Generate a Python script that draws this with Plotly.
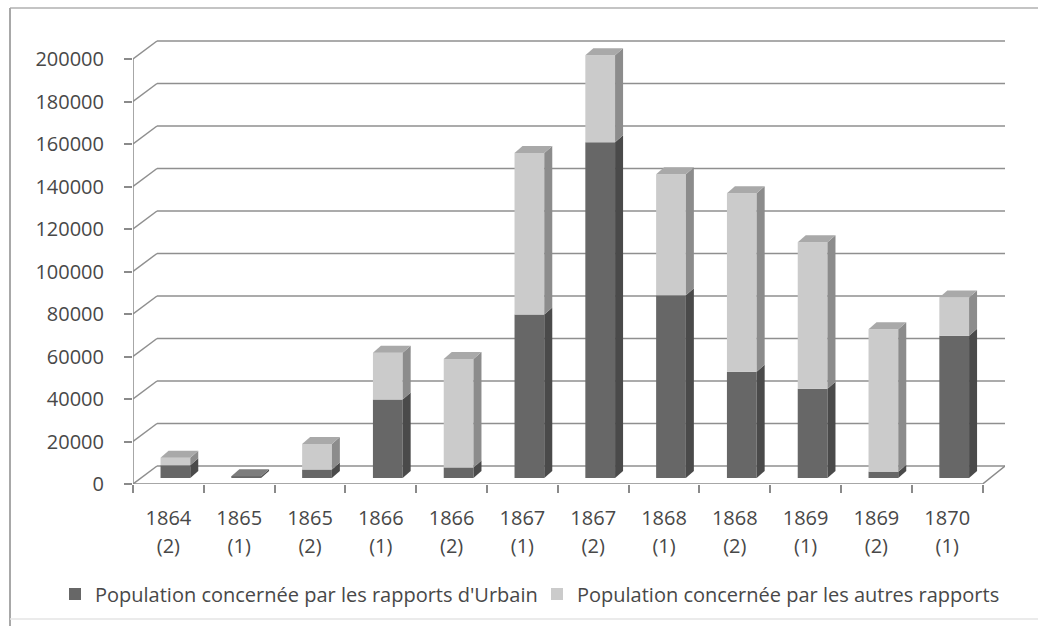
import plotly.graph_objects as go

years = ["1864", "1865", "1865", "1866", "1866", "1867", "1867", "1868", "1868", "1869", "1869", "1870"]
reports = ["(2)", "(1)", "(2)", "(1)", "(2)", "(1)", "(2)", "(1)", "(2)", "(1)", "(2)", "(1)"]
urbain = [6000, 800, 4000, 37000, 5000, 77000, 158000, 86000, 50000, 42000, 3000, 67000]
autres = [3500, 0, 12000, 22000, 51000, 76000, 41000, 57000, 84000, 69000, 67000, 18000]
yticks = [0, 20000, 40000, 60000, 80000, 100000, 120000, 140000, 160000, 180000, 200000]

series_names = ["Population concernée par les rapports d'Urbain",
                "Population concernée par les autres rapports"]
front_cols = ["#676767", "#cbcbcb"]
side_cols = ["#4a4a4a", "#8c8c8c"]
top_cols = ["#7d7d7d", "#a9a9a9"]
grid_col = "#8f8f8f"

W, H = 1038, 626
n = len(years)

# pixel geometry of the pseudo-3D frame
L = 133                 # front-left axis x (px)
RIGHT = 1005            # right edge of back wall (px)
BAR0 = 478              # pixel row of bar zero level
PX_PER_UNIT = 2.125 / 1000
FRONT_OFF = 6           # front axis sits this many px below bar level
BACK_OFF = 12           # back wall sits this many px above bar level
DEPTH_X = 24            # horizontal shift between front axis and back wall
CAT_W = 70.8            # px per category

T = 36
plot_h = BAR0 + FRONT_OFF - T
plot_w = RIGHT - L
fo = FRONT_OFF / PX_PER_UNIT
bo = BACK_OFF / PX_PER_UNIT
YMIN = -fo
YTOP = YMIN + plot_h / PX_PER_UNIT
XMIN = -0.5
XMAX = XMIN + plot_w / CAT_W

def px_to_xdata(px):
    return XMIN + (px - L) / CAT_W

bw = 0.42
shift = 7 / CAT_W
dx = 8 / CAT_W
dy = 7 / PX_PER_UNIT
xs = list(range(n))
xb = [i + shift for i in xs]

fig = go.Figure()

for k, (vals, name) in enumerate(zip([urbain, autres], series_names)):
    base = [0] * n if k == 0 else urbain
    fig.add_trace(go.Bar(x=xb, y=vals, base=base, name=name, width=bw,
                         marker=dict(color=front_cols[k], line=dict(width=0))))

for k, vals in enumerate([urbain, autres]):
    base = [0] * n if k == 0 else urbain
    for i in range(n):
        if vals[i] <= 0:
            continue
        b0 = base[i]
        t0 = base[i] + vals[i]
        xr = xb[i] + bw / 2
        xl = xb[i] - bw / 2
        fig.add_trace(go.Scatter(
            x=[xr, xr + dx, xr + dx, xr, xr],
            y=[b0, b0 + dy, t0 + dy, t0, b0],
            fill="toself", fillcolor=side_cols[k], mode="lines",
            line=dict(width=0), showlegend=False, hoverinfo="skip"))
        if k == 1 or autres[i] <= 0:
            fig.add_trace(go.Scatter(
                x=[xl, xr, xr + dx, xl + dx, xl],
                y=[t0, t0, t0 + dy, t0 + dy, t0],
                fill="toself", fillcolor=top_cols[k], mode="lines",
                line=dict(width=0), showlegend=False, hoverinfo="skip"))

fig.add_trace(go.Scatter(x=xs, y=[None] * n, xaxis="x2", mode="markers",
                         showlegend=False, hoverinfo="skip"))

# back-wall gridlines with diagonal connectors to the front axis
x_back = px_to_xdata(L + DEPTH_X)
x_front_end = px_to_xdata(L + 12 * CAT_W)
for v in yticks:
    fig.add_shape(type="line", xref="x", yref="y", x0=x_back, x1=XMAX, y0=v + bo, y1=v + bo,
                  line=dict(color=grid_col, width=1.5), layer="below")
    fig.add_shape(type="line", xref="x", yref="y", x0=XMIN, x1=x_back, y0=v - fo, y1=v + bo,
                  line=dict(color=grid_col, width=1.5), layer="below")
fig.add_shape(type="line", xref="x", yref="y", x0=XMIN, x1=XMIN, y0=-fo, y1=yticks[-1] - fo,
              line=dict(color="#8a8a8a", width=1.5), layer="below")
fig.add_shape(type="line", xref="x", yref="y", x0=XMIN, x1=x_front_end, y0=-fo, y1=-fo,
              line=dict(color="#8a8a8a", width=1.5), layer="below")
fig.add_shape(type="line", xref="x", yref="y", x0=x_front_end, x1=XMAX, y0=-fo, y1=bo,
              line=dict(color="#8a8a8a", width=1.5), layer="below")

font = "Open Sans, Liberation Sans, sans-serif"
fs = 20
txt = "#484848"

fig.update_layout(
    width=W, height=H,
    margin=dict(l=L, r=W - RIGHT, t=T, b=H - T - plot_h, autoexpand=False),
    paper_bgcolor="white", plot_bgcolor="white",
    barmode="overlay",
    font=dict(family=font, size=fs, color=txt),
    xaxis=dict(range=[XMIN, XMAX], tickmode="array", tickvals=xs, ticktext=years,
               ticks="", showgrid=False, zeroline=False, showline=False, automargin=False,
               tickfont=dict(size=fs, color=txt), ticklabelstandoff=20,
               minor=dict(tickmode="array", tickvals=[i + 0.5 for i in range(-1, n)],
                          ticks="outside", ticklen=8, tickcolor="#8a8a8a", tickwidth=1.5)),
    xaxis2=dict(range=[XMIN, XMAX], overlaying="x", side="bottom", tickmode="array",
                tickvals=xs, ticktext=reports, ticks="", showgrid=False, automargin=False,
                zeroline=False, showline=False,
                tickfont=dict(size=fs, color=txt), ticklabelstandoff=48),
    yaxis=dict(range=[YMIN, YTOP], tickmode="array", tickvals=[v - fo for v in yticks],
               ticktext=[str(v) for v in yticks], automargin=False,
               showgrid=False, zeroline=False, showline=False,
               ticks="outside", ticklen=8, tickcolor="#8a8a8a", tickwidth=1.5,
               tickfont=dict(size=fs, color=txt), ticklabelstandoff=16),
    legend=dict(orientation="h", xref="paper", yref="paper",
                x=(55 - L) / plot_w, xanchor="left",
                y=(T + plot_h - 594) / plot_h, yanchor="middle",
                bgcolor="rgba(0,0,0,0)", entrywidth=437, entrywidthmode="pixels",
                font=dict(size=fs, color=txt), traceorder="normal", itemwidth=30),
    showlegend=True,
)

# chart-area frame: top, left and faint bottom edges
def px_x(px):
    return (px - L) / plot_w

def px_y(py):
    return (T + plot_h - py) / plot_h

fig.add_shape(type="line", xref="paper", yref="paper", x0=px_x(10), x1=px_x(W), y0=px_y(8), y1=px_y(8),
              line=dict(color="#c4c4c4", width=2), layer="below")
fig.add_shape(type="line", xref="paper", yref="paper", x0=px_x(10), x1=px_x(10), y0=px_y(8), y1=px_y(H),
              line=dict(color="#a8a8a8", width=2), layer="below")
fig.add_shape(type="line", xref="paper", yref="paper", x0=px_x(10), x1=px_x(W), y0=px_y(619), y1=px_y(619),
              line=dict(color="#e4e4e4", width=1.5), layer="below")

fig.write_html("out.html", config={"displayModeBar": False},
               post_script="document.body.style.margin='0';")
